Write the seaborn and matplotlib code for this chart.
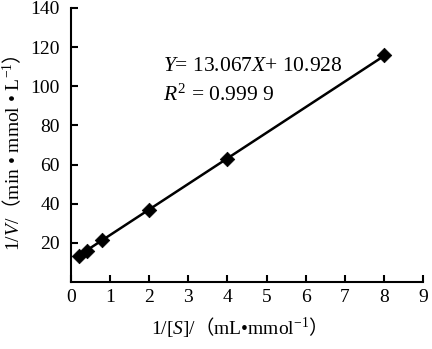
import matplotlib
matplotlib.use("Agg")
import matplotlib.pyplot as plt
import seaborn as sns
import pandas as pd

# Lineweaver-Burk data: reciprocal substrate concentration vs reciprocal rate
inv_s = [0.2, 0.4, 0.8, 2.0, 4.0, 8.0]
inv_v = [13.3, 16.0, 21.5, 36.8, 63.0, 115.8]

# Fitted regression line
slope = 13.067
intercept = 10.928
r_squared = "0.999 9"

x_ticks = list(range(0, 10))
y_ticks = list(range(20, 141, 20))

x_label = r"1/[$S$]/$\mathsf{（}$mL•mmol$^{-1}\mathsf{）}$"
y_label = r"1/$V$/$\mathsf{（}$min • mmol • L$^{-1}\mathsf{）}$"

sns.set_style("ticks")
plt.rcParams.update({
    "font.family": ["Liberation Serif", "Noto Sans CJK SC"],
    "mathtext.fontset": "custom",
    "mathtext.rm": "Liberation Serif",
    "mathtext.it": "Liberation Serif:italic",
    "mathtext.bf": "Liberation Serif:bold",
    "mathtext.sf": "Noto Sans CJK SC",
    "axes.linewidth": 1.5,
    "axes.edgecolor": "black",
    "xtick.color": "black",
    "ytick.color": "black",
    "text.color": "black",
})

FS = 14
EQ_FS = 15.5
LABEL_FS = 14

fig = plt.figure(figsize=(4.32, 3.49), dpi=100)
W, H = 432, 349
ax = fig.add_axes([71 / W, 67 / H, 352 / W, 274 / H])

df = pd.DataFrame({"inv_s": inv_s, "inv_v": inv_v})
fit_x = [min(inv_s), max(inv_s)]
fit = pd.DataFrame({"x": fit_x, "y": [slope * v + intercept for v in fit_x]})

sns.lineplot(data=fit, x="x", y="y", ax=ax, color="black", linewidth=1.8)
sns.scatterplot(data=df, x="inv_s", y="inv_v", ax=ax, marker="D", s=55,
                color="black", edgecolor="black", linewidth=0.5, zorder=3)

ax.set_xlim(0, 9)
ax.set_ylim(0, 140)
ax.set_xticks(x_ticks)
ax.set_yticks(y_ticks)
ax.set_xlabel("")
ax.set_ylabel("")
ax.tick_params(axis="both", direction="in", length=5, width=1.5, labelsize=FS)
ax.tick_params(axis="y", pad=8)
ax.tick_params(axis="x", pad=5)
sns.despine(ax=ax)

# Axis titles
fig.text(234 / W, 15 / H, x_label, fontsize=LABEL_FS, ha="center", va="baseline")
fig.text(19 / W, 196 / H, y_label, fontsize=LABEL_FS, rotation=90,
         rotation_mode="anchor", ha="center", va="baseline")

# Regression equation
fig.text(163 / W, 1 - 71 / H, f"$Y$= {slope:.3f}$X$+ {intercept:.3f}",
         fontsize=EQ_FS, ha="left", va="baseline")
fig.text(163 / W, 1 - 101 / H, f"$R^{{2}}$ = {r_squared}",
         fontsize=EQ_FS, ha="left", va="baseline")

fig.savefig("out.png", dpi=100)
